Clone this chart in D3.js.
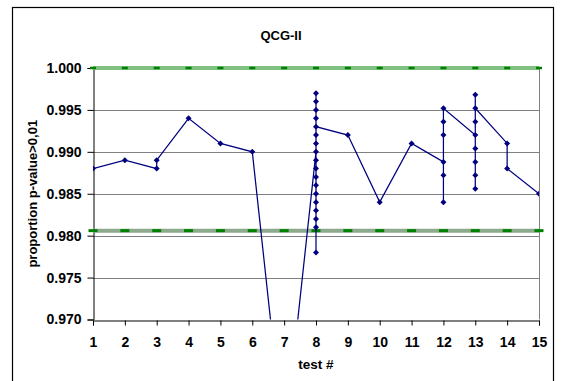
<!DOCTYPE html>
<html>
<head>
<meta charset="utf-8">
<script src="https://cdn.jsdelivr.net/npm/d3@7"></script>
<style>
  html, body { margin: 0; padding: 0; background: #fff; }
  svg { display: block; }
  text { font-family: "Liberation Sans", Arial, sans-serif; font-weight: bold; fill: #000; }
</style>
</head>
<body>
<script>
// series in drawing order (several points share the same test #)
const testNum = [1, 2, 3, 3, 4, 5, 6, 7,
    8, 8, 8, 8, 8, 8, 8, 8, 8, 8, 8, 8, 8, 8, 8, 8, 8, 8,
    9, 10, 11,
    12, 12, 12, 12, 12, 12,
    13, 13, 13, 13, 13, 13, 13, 13,
    14, 14, 15];
const proportion = [0.988, 0.989, 0.988, 0.989, 0.994, 0.991, 0.990, 0.955,
    0.990, 0.978, 0.981, 0.982, 0.983, 0.984, 0.985, 0.986, 0.987, 0.988, 0.989, 0.991, 0.992, 0.994, 0.995, 0.996, 0.997, 0.993,
    0.992, 0.984, 0.991,
    0.9888, 0.9872, 0.9840, 0.9920, 0.9936, 0.9952,
    0.9920, 0.9904, 0.9888, 0.9872, 0.9856, 0.9936, 0.9968, 0.9952,
    0.991, 0.988, 0.985];

const tests = [1, 2, 3, 4, 5, 6, 7, 8, 9, 10, 11, 12, 13, 14, 15];
const upperBound = [1.000, 1.000, 1.000, 1.000, 1.000, 1.000, 1.000, 1.000, 1.000, 1.000, 1.000, 1.000, 1.000, 1.000, 1.000];
const lowerBound = [0.9806, 0.9806, 0.9806, 0.9806, 0.9806, 0.9806, 0.9806, 0.9806, 0.9806, 0.9806, 0.9806, 0.9806, 0.9806, 0.9806, 0.9806];
const yTicks = [0.970, 0.975, 0.980, 0.985, 0.990, 0.995, 1.000];

const width = 561, height = 381;
const plot = { left: 93, right: 539, top: 68, bottom: 319.5 };

const svg = d3.select("body").append("svg")
    .attr("width", width)
    .attr("height", height);

// outer chart border
svg.append("rect")
    .attr("x", 12.5).attr("y", 7.5)
    .attr("width", 541).attr("height", 380)
    .attr("fill", "none")
    .attr("stroke", "#000")
    .attr("stroke-width", 1.2);

const x = d3.scaleLinear().domain([1, 15]).range([plot.left, plot.right]);
const y = d3.scaleLinear().domain([0.970, 1.000]).range([plot.bottom, plot.top]);

svg.append("defs").append("clipPath").attr("id", "plotclip")
    .append("rect")
    .attr("x", plot.left).attr("y", plot.top)
    .attr("width", plot.right - plot.left)
    .attr("height", plot.bottom - plot.top);

// gridlines
svg.append("g")
    .selectAll("line")
    .data(yTicks.slice(1, -1))
    .join("line")
    .attr("x1", plot.left).attr("x2", plot.right)
    .attr("y1", (d) => Math.round(y(d)) + 0.5)
    .attr("y2", (d) => Math.round(y(d)) + 0.5)
    .attr("stroke", "#808080")
    .attr("stroke-width", 1);

// right border of plot area
svg.append("line")
    .attr("x1", plot.right + 0.5).attr("x2", plot.right + 0.5)
    .attr("y1", plot.top).attr("y2", plot.bottom)
    .attr("stroke", "#808080");

// axes
const yAxis = svg.append("g")
    .attr("transform", `translate(${plot.left + 0.5},0)`)
    .call(d3.axisLeft(y).tickValues(yTicks).tickFormat(d3.format(".3f")).tickSize(6).tickPadding(6));
const xAxis = svg.append("g")
    .attr("transform", `translate(0,${Math.round(plot.bottom) + 0.5})`)
    .call(d3.axisBottom(x).tickValues(tests).tickFormat(d3.format("d")).tickSize(5).tickPadding(12));

[yAxis, xAxis].forEach((ax) => {
    ax.select(".domain").attr("stroke", "#000");
    ax.selectAll(".tick line").attr("stroke", "#000");
    ax.selectAll("text").style("font-size", "14px").attr("fill", "#000");
});

// bound lines (band + dash markers)
const boundLine = d3.line().x((d) => x(d[0])).y((d) => y(d[1]));
const bounds = [
    { vals: upperBound, band: "#80C080", dashW: 6, dashH: 2.5 },
    { vals: lowerBound, band: "#8DAA8D", dashW: 9, dashH: 3 },
];
bounds.forEach((b) => {
    const pts = tests.map((t, i) => [t, b.vals[i]]);
    svg.append("path")
        .attr("d", boundLine(pts))
        .attr("fill", "none")
        .attr("stroke", b.band)
        .attr("stroke-width", 4);
    svg.append("g")
        .selectAll("rect")
        .data(pts)
        .join("rect")
        .attr("x", (d) => x(d[0]) - b.dashW / 2)
        .attr("y", (d) => y(d[1]) - b.dashH / 2)
        .attr("width", b.dashW)
        .attr("height", b.dashH)
        .attr("fill", "#008000");
});

// main series
const series = testNum.map((t, i) => [t, proportion[i]]);
const main = svg.append("g").attr("clip-path", "url(#plotclip)");
main.append("path")
    .attr("d", d3.line().x((d) => x(d[0])).y((d) => y(d[1]))(series))
    .attr("fill", "none")
    .attr("stroke", "#000080")
    .attr("stroke-width", 1.25);

main.selectAll(".mk")
    .data(series)
    .join("path")
    .attr("class", "mk")
    .attr("d", "M0,-3L3,0L0,3L-3,0Z")
    .attr("transform", (d) => `translate(${x(d[0])},${y(d[1])})`)
    .attr("fill", "#000080");

// titles
svg.append("text")
    .attr("x", 281).attr("y", 40)
    .attr("text-anchor", "middle")
    .style("font-size", "13px")
    .text("QCG-II");

svg.append("text")
    .attr("x", 316).attr("y", 369)
    .attr("text-anchor", "middle")
    .style("font-size", "13.5px")
    .text("test #");

svg.append("text")
    .attr("transform", `translate(37,${(plot.top + plot.bottom) / 2}) rotate(-90)`)
    .attr("text-anchor", "middle")
    .style("font-size", "13px")
    .text("proportion p-value>0,01");
</script>
</body>
</html>
